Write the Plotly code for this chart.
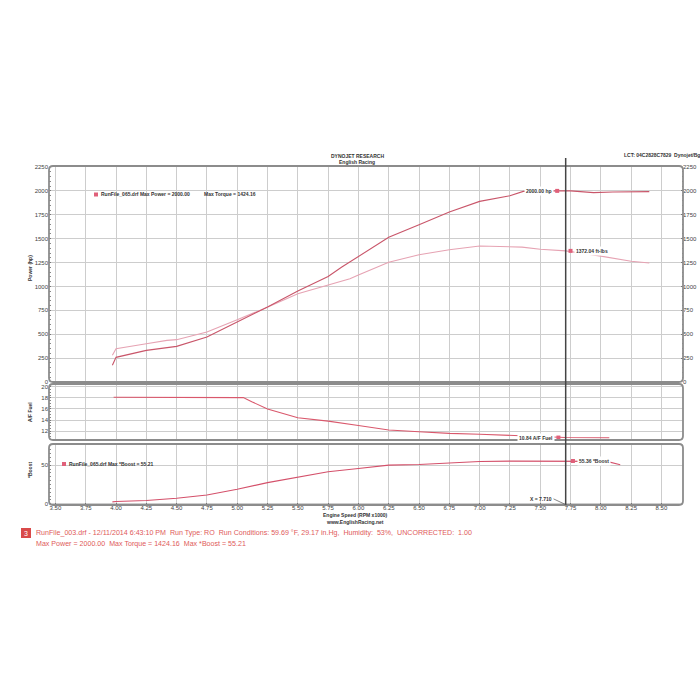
import plotly.graph_objects as go

# ---------------- data (read from the dyno sheet) ----------------
rpm_power = [3.97, 4.00, 4.25, 4.41, 4.50, 4.75, 5.00, 5.25, 5.50, 5.75, 5.86, 6.00, 6.25, 6.50, 6.75,
             7.00, 7.10, 7.25, 7.36, 7.50, 7.64, 7.75, 7.94, 8.10, 8.25, 8.40]
power_hp = [175, 258, 331, 359, 373, 471, 628, 785, 952, 1105, 1200, 1310, 1515, 1645, 1780,
            1890, 1912, 1950, 1995, 2000, 2000, 2000, 1982, 1988, 1992, 1992]

rpm_torque = [3.97, 4.00, 4.25, 4.42, 4.50, 4.75, 5.00, 5.22, 5.50, 5.75, 5.93, 6.00, 6.25, 6.50,
              6.75, 7.00, 7.10, 7.35, 7.50, 7.71, 8.00, 8.25, 8.40]
torque_ftlb = [280, 349, 401, 436, 443, 523, 652, 767, 924, 1018, 1081, 1120, 1254, 1331,
               1384, 1423, 1418, 1412, 1390, 1372, 1317, 1264, 1246]

rpm_afr = [3.98, 4.00, 4.50, 5.00, 5.05, 5.12, 5.25, 5.50, 5.75, 6.00, 6.25, 6.50, 6.75, 7.00,
           7.25, 7.50, 7.71, 8.07]
afr = [18.1, 18.1, 18.1, 18.1, 18.05, 17.3, 16.0, 14.4, 13.8, 13.0, 12.2, 11.9, 11.6, 11.45,
       11.25, 11.05, 10.84, 10.8]

rpm_boost = [3.97, 4.00, 4.25, 4.50, 4.75, 5.00, 5.25, 5.50, 5.75, 6.00, 6.25, 6.50, 6.75, 7.00,
             7.25, 7.50, 7.77, 8.05, 8.16]
boost = [2.5, 3.0, 4.3, 7.3, 11.5, 18.8, 27.4, 34.2, 41.5, 45.7, 50.0, 50.9, 53.0, 54.7,
         55.2, 55.3, 55.36, 54.8, 50.5]

x_ticks = [3.50, 3.75, 4.00, 4.25, 4.50, 4.75, 5.00, 5.25, 5.50, 5.75, 6.00, 6.25, 6.50, 6.75,
           7.00, 7.25, 7.50, 7.75, 8.00, 8.25, 8.50]
power_ticks = [0, 250, 500, 750, 1000, 1250, 1500, 1750, 2000, 2250]
afr_ticks = [12, 14, 16, 18, 20]
boost_ticks = [0, 50]

cursor_rpm = 7.71
cursor_power = 2000.00
cursor_torque = 1372.04
cursor_afr = 10.84
cursor_boost = 55.36

# ---------------- helpers ----------------
W = H = 700
def X(p): return p / W
def Y(p): return 1 - p / H

FONT = "Liberation Sans"
PINK = "#c9566a"
LPINK = "#e6a3b3"
GRID = "#cdcdcd"
TXT = "#444444"
X_RANGE = [3.447, 8.678]

def rrect(x0, y0, x1, y1, r=4):
    return (f"M {X(x0+r)},{Y(y0)} L {X(x1-r)},{Y(y0)} Q {X(x1)},{Y(y0)} {X(x1)},{Y(y0+r)} "
            f"L {X(x1)},{Y(y1-r)} Q {X(x1)},{Y(y1)} {X(x1-r)},{Y(y1)} "
            f"L {X(x0+r)},{Y(y1)} Q {X(x0)},{Y(y1)} {X(x0)},{Y(y1-r)} "
            f"L {X(x0)},{Y(y0+r)} Q {X(x0)},{Y(y0)} {X(x0+r)},{Y(y0)} Z")

fig = go.Figure()
fig.add_trace(go.Scatter(x=rpm_torque, y=torque_ftlb, mode="lines", line=dict(color=LPINK, width=1.1),
                         xaxis="x", yaxis="y", hoverinfo="skip"))
fig.add_trace(go.Scatter(x=rpm_power, y=power_hp, mode="lines", line=dict(color=PINK, width=1.1),
                         xaxis="x", yaxis="y", hoverinfo="skip"))
fig.add_trace(go.Scatter(x=[None], y=[None], xaxis="x", yaxis="y4", showlegend=False))
fig.add_trace(go.Scatter(x=rpm_afr, y=afr, mode="lines", line=dict(color="#d9586c", width=1.1),
                         xaxis="x2", yaxis="y2", hoverinfo="skip"))
fig.add_trace(go.Scatter(x=rpm_boost, y=boost, mode="lines", line=dict(color="#d4506a", width=1.1),
                         xaxis="x3", yaxis="y3", hoverinfo="skip"))
# cursor markers
mk = dict(symbol="square", size=4, color="#e0607a")
fig.add_trace(go.Scatter(x=[cursor_rpm - 0.07], y=[cursor_power], mode="markers", marker=mk, xaxis="x", yaxis="y"))
fig.add_trace(go.Scatter(x=[cursor_rpm + 0.04], y=[cursor_torque], mode="markers", marker=mk, xaxis="x", yaxis="y"))
fig.add_trace(go.Scatter(x=[cursor_rpm - 0.06], y=[cursor_afr], mode="markers", marker=mk, xaxis="x2", yaxis="y2"))
fig.add_trace(go.Scatter(x=[cursor_rpm + 0.06], y=[cursor_boost], mode="markers", marker=mk, xaxis="x3", yaxis="y3"))

tickfont = dict(family=FONT, size=6, color=TXT)
xcommon = dict(range=X_RANGE, tickvals=x_ticks, showgrid=True, gridcolor=GRID, gridwidth=1,
               zeroline=False, showline=False, fixedrange=True)
fig.update_layout(
    width=W, height=H, margin=dict(l=0, r=0, t=0, b=0, autoexpand=False),
    paper_bgcolor="white", plot_bgcolor="white", showlegend=False,
    xaxis=dict(domain=[X(49), X(683)], anchor="y", showticklabels=False, **xcommon),
    xaxis2=dict(domain=[X(49), X(683)], anchor="y2", showticklabels=False, matches="x", **xcommon),
    xaxis3=dict(domain=[X(49), X(683)], anchor="y3", showticklabels=True, matches="x",
                ticktext=[f"{v:.2f}" for v in x_ticks], tickfont=tickfont,
                ticks="inside", ticklen=2, tickcolor="#777", ticklabelstandoff=-2,
                minor=dict(ticks="inside", ticklen=1.5, dtick=0.05, tickcolor="#888"), **xcommon),
    yaxis=dict(domain=[Y(382), Y(167)], anchor="x", range=[0, 2250], tickvals=power_ticks,
               showgrid=True, gridcolor=GRID, zeroline=False, tickfont=tickfont,
               ticks="inside", ticklen=2, tickcolor="#777",
               minor=dict(ticks="inside", ticklen=1.5, dtick=50, tickcolor="#888"), fixedrange=True),
    yaxis4=dict(overlaying="y", side="right", anchor="x", range=[0, 2250], tickvals=power_ticks,
                showgrid=False, zeroline=False, tickfont=tickfont, ticks="inside", ticklen=2,
                tickcolor="#777", minor=dict(ticks="inside", ticklen=1.5, dtick=50, tickcolor="#888"),
                ticklabelstandoff=-1, fixedrange=True),
    yaxis2=dict(domain=[Y(440), Y(384)], anchor="x2", range=[10.4, 20.5], tickvals=afr_ticks,
                showgrid=True, gridcolor=GRID, zeroline=False, tickfont=tickfont,
                ticks="inside", ticklen=2, tickcolor="#777",
                minor=dict(ticks="inside", ticklen=1.5, dtick=0.5, tickcolor="#888"), fixedrange=True),
    yaxis3=dict(domain=[Y(505), Y(445)], anchor="x3", range=[-1.5, 76], tickvals=boost_ticks,
                showgrid=True, gridcolor=GRID, zeroline=False, tickfont=tickfont,
                ticks="inside", ticklen=2, tickcolor="#777",
                minor=dict(ticks="inside", ticklen=1.5, dtick=5, tickcolor="#888"), fixedrange=True),
)

shapes = []
for (a, b, c, d) in [(49, 166, 683, 382), (49, 384, 683, 440), (49, 444, 683, 505)]:
    shapes.append(dict(type="path", xref="paper", yref="paper", path=rrect(a, b, c, d, 4),
                       line=dict(color="#8c8c8c", width=1.8), layer="above"))
shapes.append(dict(type="line", xref="x", yref="paper", x0=cursor_rpm, x1=cursor_rpm,
                   y0=Y(505), y1=Y(158), line=dict(color="#444444", width=1.5), layer="above"))
shapes.append(dict(type="line", xref="x3", yref="y3", x0=7.61, x1=cursor_rpm, y0=6.4, y1=-1.0,
                   line=dict(color="#666666", width=0.8)))
# legend squares
shapes.append(dict(type="rect", xref="paper", yref="paper", x0=X(94), x1=X(98), y0=Y(196.5), y1=Y(192.5),
                   fillcolor="#e0607a", line=dict(width=0)))
shapes.append(dict(type="rect", xref="paper", yref="paper", x0=X(62), x1=X(66), y0=Y(466), y1=Y(462),
                   fillcolor="#e0607a", line=dict(width=0)))
shapes.append(dict(type="rect", xref="paper", yref="paper", x0=X(21), x1=X(31), y0=Y(538), y1=Y(528),
                   fillcolor="#d94a4a", line=dict(width=0)))
fig.update_layout(shapes=shapes)

small = dict(family=FONT, size=5, color="#333333")
def ann(text, x, y, xa="center", font=small, xref="paper", yref="paper", **kw):
    return dict(text=text, x=x, y=y, xref=xref, yref=yref, xanchor=xa, yanchor="middle",
                showarrow=False, font=font, **kw)

bold = lambda s: f"<b>{s}</b>"
anns = [
    ann(bold("DYNOJET RESEARCH"), X(357), Y(156)),
    ann(bold("English Racing"), X(357), Y(162)),
    ann(bold("LCT: 04C2828C7829  Dynojet/Bg"), X(622), Y(155), xa="left"),
    ann(bold("RunFile_065.drf Max Power = 2000.00"), X(99), Y(194.5), xa="left"),
    ann(bold("Max Torque = 1424.16"), X(202), Y(194.5), xa="left"),
    ann(bold("RunFile_065.drf Max *Boost = 55.21"), X(67), Y(464), xa="left"),
    ann(bold("Power (hp)"), X(30), Y(268), textangle=-90),
    ann(bold("A/F Fuel"), X(30), Y(412), textangle=-90),
    ann(bold("*Boost"), X(30), Y(470), textangle=-90),
    ann(bold("Engine Speed (RPM x1000)"), X(355), Y(515)),
    ann(bold("www.EnglishRacing.net"), X(355), Y(522)),
    ann(bold(f"{cursor_power:.2f} hp"), cursor_rpm - 0.1, cursor_power, xa="right", xref="x", yref="y",
        bgcolor="white"),
    ann(bold(f"{cursor_torque:.2f} ft-lbs"), cursor_rpm + 0.07, cursor_torque, xa="left", xref="x", yref="y",
        bgcolor="white"),
    ann(bold(f"{cursor_afr:.2f} A/F Fuel"), cursor_rpm - 0.09, cursor_afr, xa="right", xref="x2", yref="y2",
        bgcolor="white"),
    ann(bold(f"{cursor_boost:.2f} *Boost"), cursor_rpm + 0.09, cursor_boost, xa="left", xref="x3", yref="y3",
        bgcolor="white"),
    ann(bold(f"X = {cursor_rpm:.3f}"), 7.61, 6.4, xa="right", xref="x3", yref="y3"),
    ann("3", X(26), Y(533), font=dict(family=FONT, size=7, color="white")),
    ann("RunFile_003.drf - 12/11/2014 6:43:10 PM  Run Type: RO  Run Conditions: 59.69 °F, 29.17 in.Hg,  "
        "Humidity:  53%,  UNCORRECTED:  1.00", X(34), Y(533), xa="left",
        font=dict(family=FONT, size=7.1, color="#e05a5a")),
    ann("Max Power = 2000.00  Max Torque = 1424.16  Max *Boost = 55.21", X(34), Y(543.5), xa="left",
        font=dict(family=FONT, size=7.1, color="#e05a5a")),
]
fig.update_layout(annotations=anns)

fig.write_html("out.html", config={"displayModeBar": False},
               post_script="document.body.style.margin='0';document.body.style.padding='0';")
